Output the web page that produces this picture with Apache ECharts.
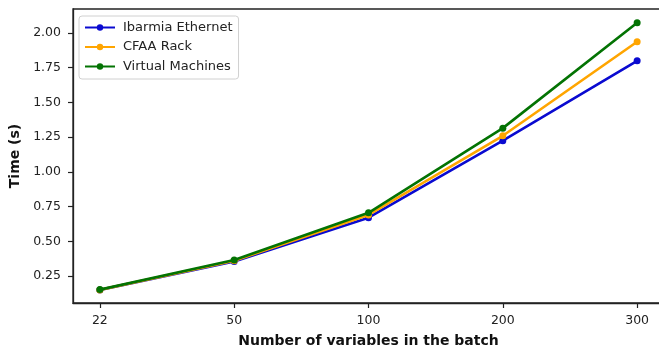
<!DOCTYPE html>
<html><head><meta charset="utf-8">
<script src="https://cdn.jsdelivr.net/npm/echarts@6/dist/echarts.min.js"></script>
<style>html,body{margin:0;padding:0;background:#fff}#c{width:659px;height:349px}</style>
</head><body><div id="c"></div>
<script>
const categories = ['22', '50', '100', '200', '300'];
const ibarmia = [0.15, 0.355, 0.67, 1.225, 1.80];
const cfaa = [0.15, 0.36, 0.69, 1.26, 1.937];
const vms = [0.152, 0.365, 0.705, 1.315, 2.074];
const yTicks = [0.25, 0.5, 0.75, 1.0, 1.25, 1.5, 1.75, 2.0];
const seriesNames = ['Ibarmia Ethernet', 'CFAA Rack', 'Virtual Machines'];
const colors = ['#0a0ad0', '#ffa500', '#037303'];

const toPts = arr => arr.map((v, i) => [i, v]);
const font = 'DejaVu Sans';
const chart = echarts.init(document.getElementById('c'));
chart.setOption({
  animation: false,
  grid: { left: 73, right: -5, top: 9, bottom: 46, outerBoundsMode: 'none', containLabel: false,
          show: true, borderColor: '#222', borderWidth: 1.3, backgroundColor: 'transparent' },
  legend: {
    left: 79, top: 16, orient: 'vertical', itemWidth: 30, itemHeight: 8, itemGap: 6.5,
    padding: [5, 6, 6, 5],
    borderColor: '#d0d0d0', borderWidth: 1, borderRadius: 3, backgroundColor: 'rgba(255,255,255,0.85)',
    textStyle: { fontFamily: font, fontSize: 13, color: '#222', padding: [0, 0, 0, 3] },
    data: seriesNames
  },
  xAxis: {
    type: 'value', min: -0.2, max: 4.2,
    name: 'Number of variables in the batch', nameLocation: 'middle', nameGap: 31,
    nameTextStyle: { fontFamily: font, fontSize: 14, fontWeight: 'bold', color: '#111' },
    axisLine: { show: true, onZero: false, lineStyle: { color: '#222', width: 1.3 } },
    axisTick: { show: true, length: 5, lineStyle: { color: '#222', width: 1.2 }, customValues: [0, 1, 2, 3, 4] },
    axisLabel: { fontFamily: font, fontSize: 12.5, color: '#222', margin: 11, customValues: [0, 1, 2, 3, 4], formatter: v => categories[Math.round(v)] },
    splitLine: { show: false }
  },
  yAxis: {
    type: 'value', min: 0.0556, max: 2.173,
    name: 'Time (s)', nameLocation: 'middle', nameGap: 42, nameRotate: 90,
    nameTextStyle: { fontFamily: font, fontSize: 14, fontWeight: 'bold', color: '#111' },
    axisLine: { show: true, onZero: false, lineStyle: { color: '#222', width: 1.3 } },
    axisTick: { show: true, length: 5, lineStyle: { color: '#222', width: 1.2 }, customValues: yTicks },
    axisLabel: { fontFamily: font, fontSize: 12.5, color: '#222', margin: 12, customValues: yTicks, formatter: v => v.toFixed(2) },
    splitLine: { show: false }
  },
  series: [ibarmia, cfaa, vms].map((d, i) => ({
    name: seriesNames[i], type: 'line', data: toPts(d),
    symbol: 'circle', symbolSize: 7, showSymbol: true,
    lineStyle: { width: 2.6, color: colors[i] }, itemStyle: { color: colors[i] },
    z: 2 + i
  }))
});
</script></body></html>
